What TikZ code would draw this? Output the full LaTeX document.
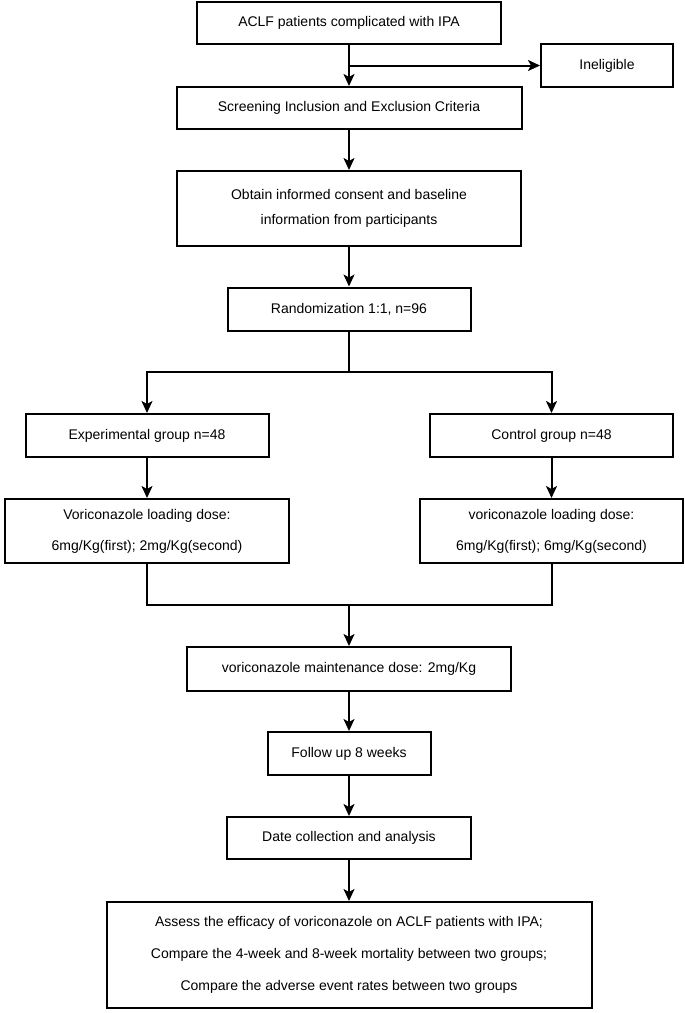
\documentclass[tikz,border=0pt]{standalone}
\usepackage{fontspec}
\setmainfont{Liberation Sans}
\usetikzlibrary{arrows.meta,positioning}

\begin{document}
\begin{tikzpicture}[x=1pt,y=-1pt,auto,node distance=85pt,line width=2pt,
				main node/.style = {rectangle,draw,inner sep=0pt,align=center,font=\fontsize{14}{25}\selectfont},
				arr/.style = {-{Stealth[length=12pt,width=11pt,inset=3pt]}}]
				\useasboundingbox (0,0) rectangle (685,1013);
				\node[main node,minimum width=304pt,minimum height=42pt] (1) at (349,23) {ACLF patients complicated with IPA};
				\node[main node,minimum width=132pt,minimum height=43pt] (2) at (607,65.5) {Ineligible};
				\node[main node,minimum width=345pt,minimum height=42pt] [below of = 1](3) {Screening Inclusion and Exclusion Criteria};
				\node[main node,minimum width=344pt,minimum height=75pt] [below of = 3,node distance=100.5pt](4) {Obtain informed consent and baseline\\information from participants};
				\node[main node,minimum width=243pt,minimum height=43pt] [below of = 4,node distance=100.5pt](5) {Randomization 1:1, n=96};
				\node[main node,minimum width=243pt,minimum height=43pt] (6) at (147,435.5) {Experimental group n=48};
				\node[main node,minimum width=243pt,minimum height=43pt] (7) at (551.5,435.5) {Control group n=48};
				\node[main node,minimum width=284pt,minimum height=64pt] [below of = 6,node distance=95.5pt](8) {Voriconazole loading dose:\\[6pt]6mg/Kg(first); 2mg/Kg(second)};
				\node[main node,minimum width=263pt,minimum height=64pt] [below of = 7,node distance=95.5pt](9) {voriconazole loading dose:\\[6pt]6mg/Kg(first); 6mg/Kg(second)};
				\node[main node,minimum width=324pt,minimum height=44pt] (10) at (349,669) {voriconazole maintenance dose: 2mg/Kg};
				\node[main node,minimum width=163pt,minimum height=43pt] [below of = 10,node distance=84.5pt](11) {Follow up 8 weeks};
				\node[main node,minimum width=244pt,minimum height=42pt] [below of = 11,node distance=84.5pt](12) {Date collection and analysis};
				\node[main node,minimum width=485pt,minimum height=106pt] [below of = 12,node distance=117pt](13) {Assess the efficacy of voriconazole on ACLF patients with IPA;\\[7pt]Compare the 4-week and 8-week mortality between two groups;\\[7pt]Compare the adverse event rates between two groups};
				\coordinate (split) at (349,372);
				\coordinate (join) at (349,605);
				
				\draw[arr] (1) -- (3);
				\draw[arr] (1 |- 2) -- (2);
				\draw[arr] (3) -- (4);
				\draw[arr] (4) -- (5);
				\draw (5) -- (split);
				\draw[arr] (split) -| (6);
				\draw[arr] (split) -| (7);
				\draw[arr] (6) -- (8);
				\draw[arr] (7) -- (9);
				\draw (8) |- (join);
				\draw (9) |- (join);
				\draw[arr] (join) -- (10);
				\draw[arr] (10) -- (11);
				\draw[arr] (11) -- (12);
				\draw[arr] (12) -- (13);
\end{tikzpicture}
\end{document}
